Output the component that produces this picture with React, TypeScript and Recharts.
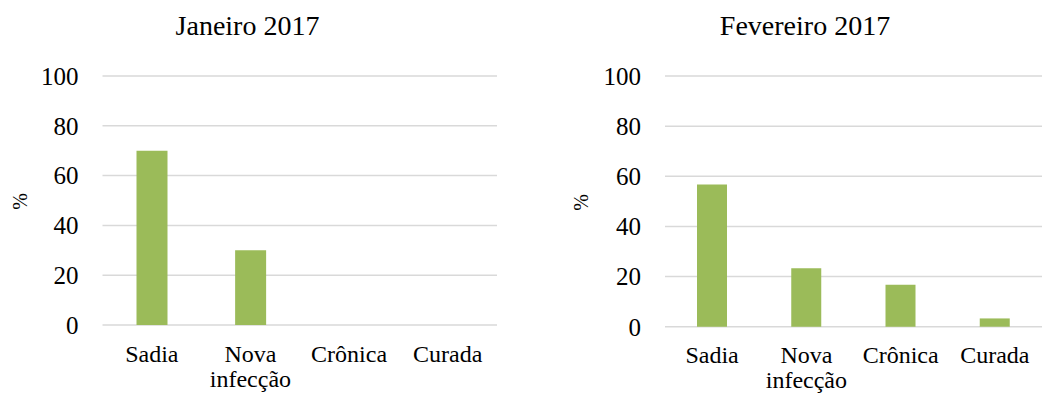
import { Bar, BarChart, CartesianGrid, XAxis, YAxis } from "recharts";

// Situação das amostras por mês (%)
const categorias = ["Sadia", "Nova infecção", "Crônica", "Curada"];
const janeiro2017 = [70, 30, 0, 0];
const fevereiro2017 = [56.7, 23.3, 16.7, 3.3];
const yTicks = [0, 20, 40, 60, 80, 100];

const FONT = '"Liberation Serif", "Times New Roman", serif';
const BAR_COLOR = "#9bbb59";
const GRID_COLOR = "#d9d9d9";

function CategoryTick(props: any) {
  const { x, y, payload } = props;
  const lines = String(payload.value).split(" ");
  return (
    <text x={x} y={y} textAnchor="middle" fill="#000" fontSize={24} style={{ fontFamily: FONT }}>
      {lines.map((line, i) => (
        <tspan key={i} x={x} y={y + 36.5 + i * 25}>
          {line}
        </tspan>
      ))}
    </text>
  );
}

interface MonthChartProps {
  title: string;
  values: number[];
  left: number;
  width: number;
  titleX: number;
  axisWidth: number;
  labelX: number;
  marginRight: number;
  axisHeight: number;
  barSize: number;
}

function MonthChart(p: MonthChartProps) {
  const data = categorias.map((c, i) => ({ categoria: c, valor: p.values[i] }));
  return (
    <div style={{ position: "absolute", left: p.left, top: 0, width: p.width, height: 394 }}>
      <div
        style={{
          position: "absolute",
          left: p.titleX,
          top: 10,
          transform: "translateX(-50%)",
          whiteSpace: "nowrap",
          fontFamily: FONT,
          fontSize: 28,
          lineHeight: "32px",
          color: "#000",
        }}
      >
        {p.title}
      </div>
      <BarChart
        width={p.width}
        height={394}
        data={data}
        margin={{ top: 76, right: p.marginRight, left: 0, bottom: 0 }}
        barSize={p.barSize}
      >
        <CartesianGrid stroke={GRID_COLOR} strokeWidth={1.5} vertical={false} />
        <XAxis
          dataKey="categoria"
          axisLine={false}
          tickLine={false}
          tickSize={0}
          tickMargin={0}
          height={p.axisHeight}
          interval={0}
          tick={<CategoryTick />}
        />
        <YAxis
          domain={[0, 100]}
          ticks={yTicks}
          axisLine={false}
          tickLine={false}
          tickSize={0}
          tickMargin={24}
          width={p.axisWidth}
          tick={{ fill: "#000", fontSize: 25 }}
          label={{
            content: ({ viewBox }: any) => {
              const cx = viewBox.x + p.labelX;
              const cy = viewBox.y + viewBox.height / 2 + 1;
              return (
                <text
                  x={cx}
                  y={cy}
                  transform={`rotate(-90, ${cx}, ${cy})`}
                  textAnchor="middle"
                  dominantBaseline="central"
                  fill="#000"
                  fontSize={20}
                  style={{ fontFamily: FONT }}
                >
                  %
                </text>
              );
            },
          }}
        />
        <Bar dataKey="valor" fill={BAR_COLOR} isAnimationActive={false} />
      </BarChart>
    </div>
  );
}

export default function App() {
  return (
    <div style={{ position: "fixed", left: 0, top: 0, width: 1042, height: 394, background: "#fff" }}>
      <style>{`.recharts-surface text { font-family: ${FONT}; }`}</style>
      <MonthChart
        title="Janeiro 2017"
        values={janeiro2017}
        left={0}
        width={520}
        titleX={247.5}
        axisWidth={102.5}
        labelX={20}
        marginRight={23}
        axisHeight={69}
        barSize={31}
      />
      <MonthChart
        title="Fevereiro 2017"
        values={fevereiro2017}
        left={560}
        width={482}
        titleX={245}
        axisWidth={105}
        labelX={21.5}
        marginRight={0}
        axisHeight={67.3}
        barSize={30}
      />
    </div>
  );
}
